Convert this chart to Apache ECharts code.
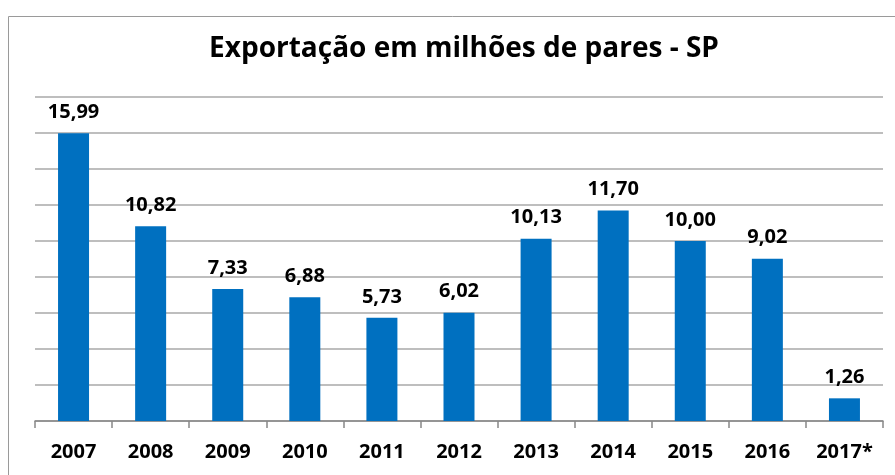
<!DOCTYPE html>
<html>
<head>
<meta charset="utf-8">
<script src="https://cdn.jsdelivr.net/npm/echarts@6/dist/echarts.min.js"></script>
<style>
html, body { margin: 0; padding: 0; background: #fff; }
#main { width: 895px; height: 475px; }
</style>
</head>
<body>
<div id="main"></div>
<script>
var years = ['2007', '2008', '2009', '2010', '2011', '2012', '2013', '2014', '2015', '2016', '2017*'];
var pares = [15.99, 10.82, 7.33, 6.88, 5.73, 6.02, 10.13, 11.70, 10.00, 9.02, 1.26];
var titulo = 'Exportação em milhões de pares - SP';

var myChart = echarts.init(document.getElementById('main'));
var font = '"Open Sans", Lato, sans-serif';

var option = {
    animation: false,
    backgroundColor: '#fff',
    graphic: [
        {
            type: 'rect',
            shape: { x: 8.5, y: 16.5, width: 900, height: 500 },
            style: { fill: 'none', stroke: '#9a9a9a', lineWidth: 1 },
            silent: true
        }
    ],
    title: {
        text: titulo,
        left: 459,
        textAlign: 'center',
        top: 30,
        textStyle: { fontFamily: font, fontSize: 28, fontWeight: 'bold', color: '#000' }
    },
    grid: { left: 35, right: 12, top: 97, bottom: 54 },
    xAxis: {
        type: 'category',
        data: years,
        axisLine: { lineStyle: { color: '#888', width: 1.5 } },
        axisTick: { show: true, length: 7, lineStyle: { color: '#888', width: 1.5 } },
        axisLabel: { interval: 0, fontFamily: font, fontSize: 20, fontWeight: 'bold', color: '#000', margin: 21 }
    },
    yAxis: {
        type: 'value',
        min: 0,
        max: 18,
        interval: 2,
        axisLine: { show: false },
        axisTick: { show: false },
        axisLabel: { show: false },
        splitLine: { lineStyle: { color: '#a8a8a8', width: 1.5 } }
    },
    series: [
        {
            type: 'bar',
            data: pares,
            barWidth: 31,
            itemStyle: { color: '#0070c0' },
            label: {
                show: true,
                position: 'top',
                distance: 11,
                fontFamily: font,
                fontSize: 20,
                fontWeight: 'bold',
                color: '#000',
                formatter: function (p) { return p.value.toFixed(2).replace('.', ','); }
            }
        }
    ]
};
myChart.setOption(option);
</script>
</body>
</html>
